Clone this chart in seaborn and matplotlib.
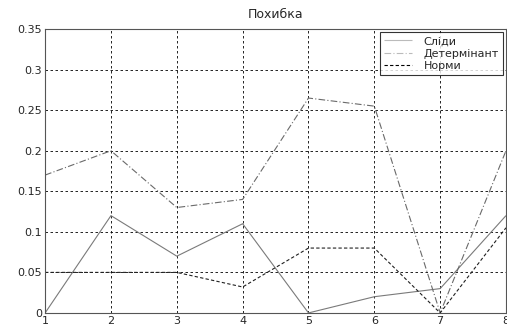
import matplotlib
matplotlib.use('Agg')
import matplotlib.pyplot as plt
import numpy as np
import pandas as pd
import seaborn as sns

# дані
x = [1, 2, 3, 4, 5, 6, 7, 8]
slidy = [0, 0.12, 0.07, 0.11, 0, 0.02, 0.03, 0.12]
determinant = [0.17, 0.2, 0.13, 0.14, 0.265, 0.255, 0, 0.2]
normy = [0.05, 0.05, 0.05, 0.032, 0.08, 0.08, 0, 0.105]
names = ['Сліди', 'Детермінант', 'Норми']
yticks = [0, 0.05, 0.1, 0.15, 0.2, 0.25, 0.3, 0.35]
yticklabels = ['0', '0.05', '0.1', '0.15', '0.2', '0.25', '0.3', '0.35']

sns.set_style('white')
plt.rcParams['font.family'] = ['DejaVu Sans']

df = pd.DataFrame({'x': x * 3,
                   'y': slidy + determinant + normy,
                   'name': [names[0]] * 8 + [names[1]] * 8 + [names[2]] * 8})

fig = plt.figure(figsize=(5.07, 3.27), dpi=100)
ax = fig.add_axes([0.089, 0.043, 0.909, 0.868])

styles = {'Сліди': (0, ()), 'Детермінант': (0, (6, 2, 1, 2)), 'Норми': (0, (3, 2))}
colors = {'Сліди': '#7a7a7a', 'Детермінант': '#6a6a6a', 'Норми': '#202020'}
for n in names:
    sub = df[df['name'] == n]
    sns.lineplot(data=sub, x='x', y='y', ax=ax, color=colors[n],
                 linestyle=styles[n], linewidth=0.8, label=n)

ax.set_xlim(1, 8)
ax.set_ylim(0, 0.35)
ax.set_xticks(x)
ax.set_xticklabels([str(v) for v in x])
ax.set_yticks(yticks)
ax.set_yticklabels(yticklabels)
ax.grid(True, color='black', linestyle=(0, (3, 3)), linewidth=0.6)
ax.tick_params(axis='both', labelsize=8, length=0, pad=2)
ax.set_xlabel('')
ax.set_ylabel('')
ax.set_title('Похибка', fontsize=9, pad=8)
for s in ax.spines.values():
    s.set_color('#555555')
    s.set_linewidth(0.8)

leg = ax.legend(loc='upper right', fontsize=8, frameon=True, fancybox=False,
                borderpad=0.35, labelspacing=0.2, handlelength=2.6,
                handletextpad=1.0, borderaxespad=0.3, edgecolor='black')
leg.get_frame().set_linewidth(0.8)
for h in leg.get_lines():
    h.set_color('#bbbbbb')
leg.get_lines()[2].set_color('black')

fig.savefig('out.png', dpi=100)
